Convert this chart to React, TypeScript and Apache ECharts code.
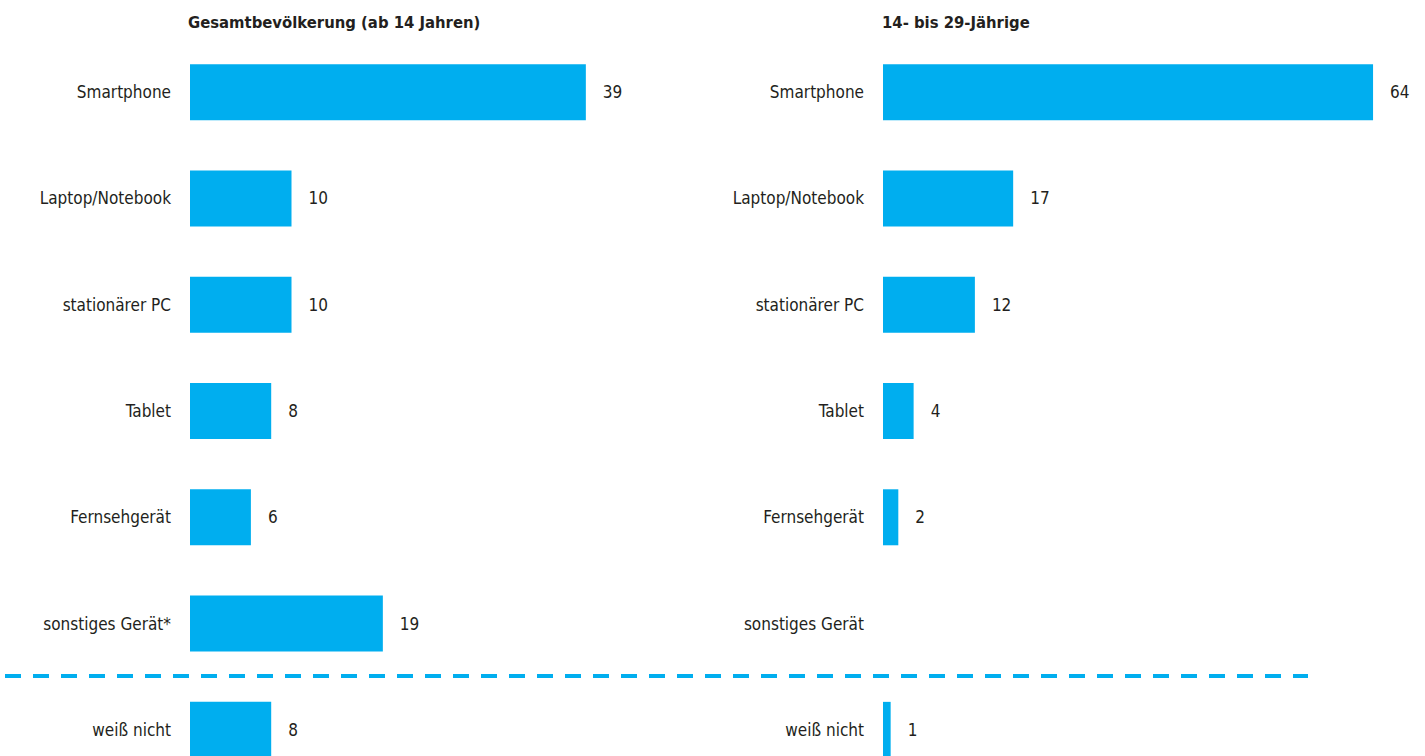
import React, { useEffect, useRef } from "react";
import * as echarts from "echarts";

const categoriesLeft = ["Smartphone", "Laptop/Notebook", "stationärer PC", "Tablet", "Fernsehgerät", "sonstiges Gerät*", "weiß nicht"];
const categoriesRight = ["Smartphone", "Laptop/Notebook", "stationärer PC", "Tablet", "Fernsehgerät", "sonstiges Gerät", "weiß nicht"];
const valuesLeft = [39, 10, 10, 8, 6, 19, 8];
const valuesRight: (number | string)[] = [64, 17, 12, 4, 2, "-", 1];
const titleLeft = "Gesamtbevölkerung (ab 14 Jahren)";
const titleRight = "14- bis 29-Jährige";

const FONT = "'Liberation Sans Narrow', 'DejaVu Sans Condensed', 'Roboto', sans-serif";
const BLUE = "#00AEEF";
const TEXT = "#231f20";

export default function App() {
  const ref = useRef<HTMLDivElement>(null);
  useEffect(() => {
    if (!ref.current) return;
    const chart = echarts.init(ref.current, null, { renderer: "svg" });
    const yAxisCommon = {
      type: "category" as const,
      inverse: true,
      axisLine: { show: false },
      axisTick: { show: false },
      splitLine: { show: false },
      axisLabel: { margin: 19, fontSize: 17, color: TEXT, fontFamily: FONT },
    };
    const xAxisCommon = {
      type: "value" as const,
      min: 0,
      show: false,
      splitLine: { show: false },
    };
    const labelCommon = {
      show: true,
      position: "right" as const,
      distance: 17,
      fontSize: 17,
      color: TEXT,
      fontFamily: FONT,
    };
    const titleStyle = { fontSize: 16.5, fontWeight: "bold" as const, color: TEXT, fontFamily: FONT };
    chart.setOption({
      animation: false,
      title: [
        { text: titleLeft, left: 188, top: 14, padding: 0, textStyle: titleStyle },
        { text: titleRight, left: 882, top: 14, padding: 0, textStyle: titleStyle },
      ],
      grid: [
        { left: 190, width: 507.5, top: 39, height: 744, containLabel: false, outerBoundsMode: "none" },
        { left: 883, width: 536, top: 39, height: 744, containLabel: false, outerBoundsMode: "none" },
      ],
      xAxis: [
        { ...xAxisCommon, gridIndex: 0, max: 50 },
        { ...xAxisCommon, gridIndex: 1, max: 70 },
      ],
      yAxis: [
        { ...yAxisCommon, gridIndex: 0, data: categoriesLeft },
        { ...yAxisCommon, gridIndex: 1, data: categoriesRight },
      ],
      series: [
        {
          type: "bar",
          xAxisIndex: 0,
          yAxisIndex: 0,
          data: valuesLeft,
          barWidth: 56,
          itemStyle: { color: BLUE },
          label: labelCommon,
        },
        {
          type: "bar",
          xAxisIndex: 1,
          yAxisIndex: 1,
          data: valuesRight,
          barWidth: 56,
          itemStyle: { color: BLUE },
          label: labelCommon,
        },
      ],
      graphic: [
        {
          type: "line",
          shape: { x1: 5, y1: 676, x2: 1308, y2: 676 },
          style: { stroke: BLUE, lineWidth: 4, lineDash: [16, 12] },
        },
      ],
    });
    return () => chart.dispose();
  }, []);
  return (
    <div
      ref={ref}
      style={{ position: "fixed", left: 0, top: 0, width: 1425, height: 756, background: "#fff" }}
    />
  );
}
